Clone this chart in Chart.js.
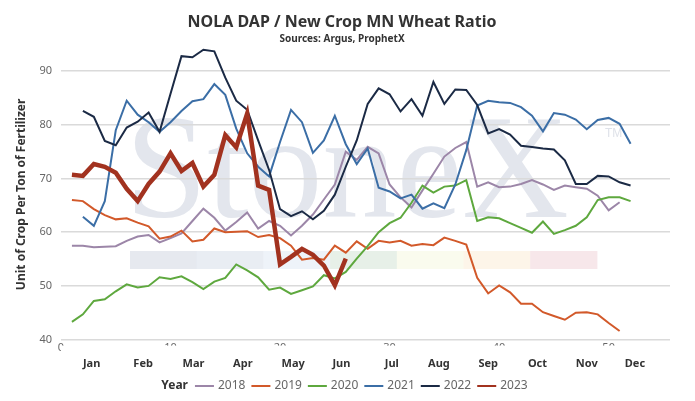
<!DOCTYPE html>
<html>
<head>
<meta charset="utf-8">
<script src="https://cdn.jsdelivr.net/npm/chart.js@4.4.0/dist/chart.umd.min.js"></script>
<style>
  html, body { margin: 0; padding: 0; background: #fff; }
  #wrap { width: 695px; height: 401px; }
</style>
</head>
<body>
<div id="wrap"><canvas id="ratioChart"></canvas></div>
<script>
// weekly ratio, by year (first value = week in startWeek)
const years = ['2018', '2019', '2020', '2021', '2022', '2023'];
const startWeek = [1, 1, 1, 2, 2, 1];

const y2018 = [57.5, 57.5, 57.2, 57.3, 57.4, 58.4, 59.2, 59.5, 58.1, 58.9, 59.8, 62.1, 64.4, 62.7, 60.3, 61.9, 63.7,
    60.7, 62.1, 61.2, 59.4, 61.2, 63.3, 66.1, 68.9, 75.0, 73.5, 75.9, 74.7, 68.9, 66.5, 64.6, 67.8, 70.9, 74.1,
    75.7, 76.8, 68.5, 69.3, 68.4, 68.5, 69.0, 69.7, 68.9, 67.9, 68.7, 68.4, 68.1, 66.8, 64.1, 65.6];
const y2019 = [66.0, 65.8, 64.3, 63.2, 62.4, 62.6, 61.8, 61.1, 58.8, 59.2, 60.3, 58.3, 58.6, 60.7, 60.0, 60.1, 60.2,
    59.1, 59.5, 58.9, 57.5, 54.9, 55.2, 54.9, 57.5, 56.2, 58.3, 56.9, 58.4, 58.1, 58.4, 57.5, 57.8, 57.6, 59.0,
    58.4, 57.7, 51.5, 48.6, 50.1, 48.8, 46.7, 46.7, 45.1, 44.4, 43.7, 45.0, 45.1, 44.7, 43.1, 41.6];
const y2020 = [43.3, 44.7, 47.2, 47.5, 49.0, 50.3, 49.7, 50.0, 51.6, 51.3, 51.8, 50.7, 49.4, 50.8, 51.5, 54.0, 52.9,
    51.6, 49.3, 49.7, 48.5, 49.2, 49.9, 52.0, 51.4, 52.6, 55.1, 57.4, 60.0, 61.7, 62.7, 65.5, 68.7, 67.4, 68.5,
    68.7, 69.7, 62.1, 62.8, 62.6, 61.7, 60.8, 59.9, 62.0, 59.7, 60.4, 61.2, 62.8, 66.0, 66.5, 66.5, 65.8];
const y2021 = [62.9, 61.2, 65.8, 79.0, 84.5, 81.9, 80.5, 78.7, 80.5, 82.6, 84.4, 84.8, 87.6, 85.6, 79.3, 74.7, 72.2,
    70.4, 76.8, 82.8, 80.5, 74.8, 77.1, 81.7, 76.4, 72.7, 75.6, 68.3, 67.6, 66.3, 67.0, 64.4, 65.4, 64.5, 68.9,
    75.3, 83.6, 84.5, 84.2, 84.1, 83.3, 81.7, 78.8, 82.2, 81.9, 81.0, 79.2, 80.9, 81.3, 80.2, 76.5];
const y2022 = [82.6, 81.5, 77.0, 76.2, 79.5, 80.6, 82.3, 78.7, 85.8, 92.8, 92.6, 94.0, 93.7, 88.8, 84.5, 82.8, 77.1,
    71.6, 64.3, 63.0, 63.9, 62.4, 64.0, 67.0, 72.2, 77.1, 83.9, 86.8, 85.7, 82.5, 84.8, 81.7, 88.0, 83.9, 86.6,
    86.5, 83.7, 78.4, 79.2, 78.2, 76.1, 75.9, 75.6, 75.4, 73.4, 69.0, 69.0, 70.5, 70.4, 69.3, 68.7];
const y2023 = [70.7, 70.5, 72.7, 72.2, 71.1, 68.1, 65.8, 69.0, 71.3, 74.7, 71.4, 72.9, 68.5, 70.7, 78.1, 75.8, 82.1,
    68.7, 67.9, 54.0, 55.4, 56.9, 55.8, 53.8, 50.1, 55.1];

const seriesValues = [y2018, y2019, y2020, y2021, y2022, y2023];

const months = ['Jan', 'Feb', 'Mar', 'Apr', 'May', 'Jun', 'Jul', 'Aug', 'Sep', 'Oct', 'Nov', 'Dec'];
const monthWeeks = [2.8, 7.5, 12.1, 16.6, 21.2, 25.6, 30.2, 34.5, 39.0, 43.5, 48.0, 52.4];
const weekTicks = [0, 10, 20, 30, 40, 50];
const yTicks = [40, 50, 60, 70, 80, 90];

const lineColors = ['#9c86a8', '#d2592a', '#5ea83e', '#3b6ea6', '#1b2a45', '#a2321f'];
const lineWidths = [2, 2, 2, 2, 2, 4.5];
const bandColors = ['#e6e9ef', '#e9edf3', '#eef3f9', '#e7f0e8', '#fafbee', '#fdf5e9', '#f7e7ea'];

const FONT = '"Noto Sans", sans-serif';

// StoneX watermark + colour band, under the grid
const watermark = {
    id: 'watermark',
    beforeDraw(chart) {
        const ctx = chart.ctx;
        ctx.save();
        const bw = 66.7;
        bandColors.forEach((c, i) => {
            ctx.fillStyle = c;
            ctx.fillRect(130 + i * bw, 251, bw + 0.5, 18);
        });
        ctx.fillStyle = '#e3e6ed';
        ctx.font = '148px "Liberation Serif", serif';
        ctx.textBaseline = 'alphabetic';
        ctx.fillText('StoneX', 125, 217);
        ctx.restore();
        ctx.save();
        ctx.fillStyle = '#dfe2e9';
        ctx.font = '12px "Liberation Sans", sans-serif';
        ctx.fillText('TM', 605, 137);
        ctx.restore();
    },
    // the week numbers are mostly hidden behind the month row
    afterDatasetsDraw(chart) {
        const ctx = chart.ctx;
        const a = chart.chartArea;
        ctx.save();
        ctx.fillStyle = '#fff';
        ctx.fillRect(a.left, a.bottom + 6, chart.width - a.left, 12);
        ctx.restore();
    },
    afterDraw(chart) {
        const ctx = chart.ctx;
        ctx.save();
        ctx.textBaseline = 'middle';
        const y = 386;
        ctx.font = 'bold 12px ' + FONT;
        const titleW = ctx.measureText('Year').width;
        ctx.font = '12px ' + FONT;
        const items = chart.data.datasets.map(ds => ({ ds, w: ctx.measureText(ds.label).width }));
        let total = titleW + 7;
        items.forEach(it => { total += 19 + 4 + it.w + 6; });
        let x = (chart.width - total) / 2;
        ctx.font = 'bold 12px ' + FONT;
        ctx.fillStyle = '#333';
        ctx.fillText('Year', x, y);
        x += titleW + 7;
        ctx.font = '12px ' + FONT;
        items.forEach(it => {
            ctx.strokeStyle = it.ds.borderColor;
            ctx.lineWidth = 2;
            ctx.beginPath();
            ctx.moveTo(x, y);
            ctx.lineTo(x + 19, y);
            ctx.stroke();
            x += 23;
            ctx.fillStyle = '#666';
            ctx.fillText(it.ds.label, x, y);
            x += it.w + 6;
        });
        ctx.restore();
    }
};

const datasets = years.map((yr, i) => ({
    label: yr,
    data: seriesValues[i].map((v, k) => ({ x: startWeek[i] + k, y: v })),
    borderColor: lineColors[i],
    backgroundColor: lineColors[i],
    borderWidth: lineWidths[i],
    pointRadius: 0,
    tension: 0,
    fill: false,
    clip: false,
    order: 10 - i
}));

const ctx = document.getElementById('ratioChart').getContext('2d');
const ratioChart = new Chart(ctx, {
    type: 'line',
    data: { datasets: datasets },
    plugins: [watermark],
    options: {
        responsive: true,
        maintainAspectRatio: false,
        animation: false,
        layout: { padding: { left: 14, right: 25, top: 0, bottom: 31 } },
        plugins: {
            legend: { display: false },
            tooltip: { enabled: false },
            title: {
                display: true,
                text: 'NOLA DAP / New Crop MN Wheat Ratio',
                color: '#333',
                font: { family: FONT, size: 16, weight: 'bold' },
                padding: { top: 13, bottom: 1 }
            },
            subtitle: {
                display: true,
                text: 'Sources: Argus, ProphetX',
                color: '#333',
                font: { family: FONT, size: 10, weight: 'bold' },
                padding: { top: 0, bottom: 4 }
            }
        },
        scales: {
            x: {
                type: 'linear',
                min: 0,
                max: 55.6,
                weight: 0,
                grid: { display: false, drawTicks: false },
                border: { display: false },
                afterBuildTicks(scale) {
                    scale.ticks = weekTicks.map(v => ({ value: v }));
                },
                ticks: {
                    color: '#666',
                    font: { family: FONT, size: 11 },
                    padding: 2,
                    maxRotation: 0
                }
            },
            xm: {
                type: 'linear',
                position: 'bottom',
                min: 0,
                max: 55.6,
                weight: 1,
                z: 1,
                grid: { display: false, drawTicks: false },
                border: { display: false },
                afterBuildTicks(scale) {
                    scale.ticks = monthWeeks.map(v => ({ value: v }));
                },
                ticks: {
                    color: '#333',
                    font: { family: FONT, size: 11, weight: 'bold' },
                    padding: 0,
                    maxRotation: 0,
                    autoSkip: false,
                    callback: (v, i) => months[i]
                }
            },
            y: {
                min: 40,
                max: 94.1,
                afterBuildTicks(scale) {
                    scale.ticks = yTicks.map(v => ({ value: v }));
                },
                grid: { color: '#dadada', lineWidth: 1.5, drawTicks: false },
                border: { display: false },
                ticks: {
                    color: '#666',
                    font: { family: FONT, size: 11 },
                    padding: 9
                },
                title: {
                    display: true,
                    text: 'Unit of Crop Per Ton of Fertilizer',
                    color: '#333',
                    font: { family: FONT, size: 12, weight: 'bold' },
                    padding: { top: 0, bottom: 2 }
                }
            }
        }
    }
});
</script>
</body>
</html>
